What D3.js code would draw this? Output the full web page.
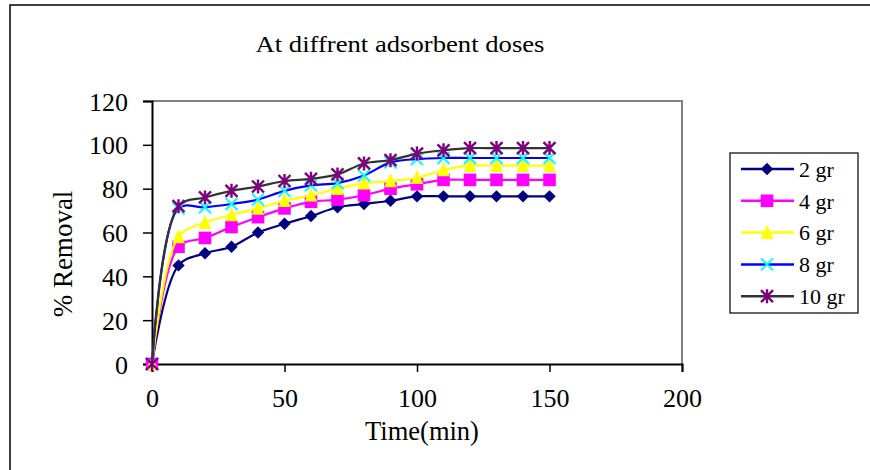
<!DOCTYPE html>
<html><head><meta charset="utf-8">
<script src="https://cdn.jsdelivr.net/npm/d3@7/dist/d3.min.js"></script>
<style>body{margin:0;background:#fff}svg{display:block}text{font-family:"Liberation Serif","Times New Roman",serif;fill:#000}</style>
</head><body>
<svg id="c" width="870" height="470"></svg>
<script>
const times = [0,10,20,30,40,50,60,70,80,90,100,110,120,130,140,150];
const seriesNames = ["2 gr","4 gr","6 gr","8 gr","10 gr"];
const dose2 = [0,45,50.5,53.5,60,64,67.5,71.5,73,74.5,76.5,76.5,76.5,76.5,76.5,76.5];
const dose4 = [0,53.5,57.5,62.5,67,71,74,75,77,80,82,84,84,84,84,84];
const dose6 = [0,58,64.5,68,71,74.5,77,80,82.5,83.5,85,88.5,90.5,90.5,90.5,90.5];
const dose8 = [0,71,71.5,73,75,79,81.5,82.5,86,92,93.5,94,94,94,94,94];
const dose10 = [0,72,76,79,81,83.5,84.5,86.5,91.5,93,96,97.5,98.5,98.5,98.5,98.5];
const xTicks = [0,50,100,150,200];
const yTicks = [0,20,40,60,80,100,120];
const title = "At diffrent adsorbent doses";
const xTitle = "Time(min)";
const yTitle = "% Removal";

const styles = [
  {line:"#000080", fill:"#000080", stroke:"#000080", shape:"diamond"},
  {line:"#FF00FF", fill:"#FF00FF", stroke:"#FF00FF", shape:"square"},
  {line:"#FFFF00", fill:"#FFFF00", stroke:"#FFFF00", shape:"triangle"},
  {line:"#0000FF", fill:"none", stroke:"#00FFFF", shape:"x"},
  {line:"#333333", fill:"none", stroke:"#800080", shape:"star"}
];
const allSeries = [dose2,dose4,dose6,dose8,dose10];

const svg = d3.select("#c");
svg.append("rect").attr("x",10).attr("y",5).attr("width",900).attr("height",500)
  .attr("fill","none").attr("stroke","#000").attr("stroke-width",1.5);

const L=152, R=682, T=101, B=364;
const x = d3.scaleLinear().domain([0,200]).range([L,R]);
const y = d3.scaleLinear().domain([0,120]).range([B,T]);

svg.append("path").attr("d",`M${L},${T}H${R}V${B}`).attr("fill","none")
  .attr("stroke","#808080").attr("stroke-width",2);

const xAxis = svg.append("g").attr("transform",`translate(0,${B})`)
  .call(d3.axisBottom(x).tickValues(xTicks).tickSize(8).tickPadding(8).tickFormat(d3.format("d")));
const yAxis = svg.append("g").attr("transform",`translate(${L},0)`)
  .call(d3.axisLeft(y).tickValues(yTicks).tickSize(9).tickPadding(15).tickFormat(d3.format("d")));
[xAxis,yAxis].forEach(a=>{
  a.selectAll("path").attr("stroke","#000").attr("stroke-width",2);
  a.selectAll("line").attr("stroke","#000").attr("stroke-width",1.5);
  a.selectAll("text").attr("font-size",26).attr("font-family","Liberation Serif, serif").attr("fill","#000");
});
xAxis.selectAll("text").attr("dy",null).attr("y",43);
yAxis.selectAll("text").attr("dy","0.35em");

svg.append("text").attr("x",400).attr("y",52).attr("text-anchor","middle")
  .attr("font-size",24).attr("textLength",289).attr("lengthAdjust","spacingAndGlyphs").text(title);
svg.append("text").attr("x",422).attr("y",440).attr("text-anchor","middle").attr("font-size",26.5).text(xTitle);
svg.append("text").attr("transform","translate(72,254) rotate(-90)").attr("text-anchor","middle")
  .attr("font-size",27).text(yTitle);

function marker(g, shape, st, cx, cy){
  if(shape==="diamond"){
    const s=6.2;
    g.append("path").attr("d",`M${cx},${cy-s}L${cx+s},${cy}L${cx},${cy+s}L${cx-s},${cy}Z`).attr("fill",st.fill);
  } else if(shape==="square"){
    const s=6.3;
    g.append("rect").attr("x",cx-s).attr("y",cy-s).attr("width",2*s).attr("height",2*s).attr("fill",st.fill);
  } else if(shape==="triangle"){
    const s=6.3;
    g.append("path").attr("d",`M${cx},${cy-s-1.5}L${cx+s},${cy+s}L${cx-s},${cy+s}Z`).attr("fill",st.fill);
  } else if(shape==="x"){
    const s=6;
    g.append("path").attr("d",`M${cx-s},${cy-s}L${cx+s},${cy+s}M${cx+s},${cy-s}L${cx-s},${cy+s}`)
      .attr("stroke",st.stroke).attr("stroke-width",2);
  } else {
    const s=6;
    g.append("path").attr("d",`M${cx-s},${cy-s}L${cx+s},${cy+s}M${cx+s},${cy-s}L${cx-s},${cy+s}M${cx},${cy-s-1}L${cx},${cy+s+1}`)
      .attr("stroke",st.stroke).attr("stroke-width",2.4);
  }
}

const line = d3.line().x(d=>x(d[0])).y(d=>y(d[1])).curve(d3.curveCatmullRom.alpha(0.5));
allSeries.forEach((vals,i)=>{
  const pts = times.map((t,j)=>[t,vals[j]]);
  const g = svg.append("g");
  g.append("path").attr("d",line(pts)).attr("fill","none").attr("stroke",styles[i].line).attr("stroke-width",2.2);
  pts.forEach(p=>marker(g, styles[i].shape, styles[i], x(p[0]), y(p[1])));
});

const lg = svg.append("g");
lg.append("rect").attr("x",730).attr("y",153).attr("width",128).attr("height",160)
  .attr("fill","#fff").attr("stroke","#000").attr("stroke-width",1.2);
seriesNames.forEach((n,i)=>{
  const cy = 169 + i*31.8;
  lg.append("line").attr("x1",741).attr("x2",794).attr("y1",cy).attr("y2",cy)
    .attr("stroke",styles[i].line).attr("stroke-width",2.5);
  marker(lg, styles[i].shape, styles[i], 767, cy);
  lg.append("text").attr("x",799).attr("y",cy).attr("dy","0.35em").attr("font-size",22).text(n);
});
</script>
</body></html>
